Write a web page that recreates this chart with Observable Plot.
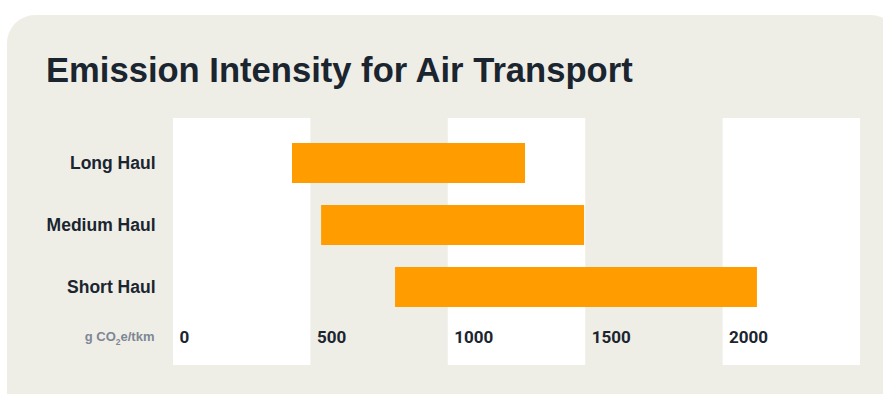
<!DOCTYPE html>
<html>
<head>
<meta charset="utf-8">
<script src="https://cdn.jsdelivr.net/npm/d3@7"></script>
<script src="https://cdn.jsdelivr.net/npm/@observablehq/plot@0.6"></script>
<style>
  html, body { margin: 0; padding: 0; background: #ffffff; width: 883px; height: 394px; overflow: hidden; }
  #card { position: absolute; left: 7px; top: 15px; width: 892px; height: 410px; background: #efeee6; border-radius: 28px; }
  #title { position: absolute; left: 46px; top: 53px; margin: 0; font-family: "Liberation Sans", Arial, sans-serif; font-weight: 700; font-size: 34.6px; line-height: 1; color: #1b2530; white-space: nowrap; }
  #chart { position: absolute; left: 0; top: 118px; }
</style>
</head>
<body>
<div id="card"></div>
<h1 id="title">Emission Intensity for Air Transport</h1>
<div id="chart"></div>
<script>
const categories = ["Long Haul", "Medium Haul", "Short Haul"];
const lowValues = [433, 539, 808];
const highValues = [1281, 1496, 2125];
const tickValues = [0, 500, 1000, 1500, 2000];
const unitParts = ["g CO", "2", "e/tkm"];

const rows = categories.map((c, i) => ({category: c, low: lowValues[i], high: highValues[i]}));
const bands = tickValues.filter((t, i) => i % 2 === 0).map(t => ({x1: t, x2: t + 500}));

const chart = Plot.plot({
  width: 883,
  height: 247,
  marginLeft: 173,
  marginRight: 23,
  marginTop: 0,
  marginBottom: 0,
  style: {background: "transparent", overflow: "visible"},
  x: {domain: [0, 2500], axis: null},
  y: {domain: categories, range: [14, 200], paddingInner: 0.355, paddingOuter: 0.1775, axis: null},
  marks: [
    Plot.rect(bands, {x1: "x1", x2: "x2", fill: "#ffffff"}),
    Plot.barX(rows, {x1: "low", x2: "high", y: "category", fill: "#ff9d00"}),
    Plot.axisY({tickSize: 0, tickPadding: 18, fontSize: 17.5, fontWeight: 700, fontFamily: "Liberation Sans, Arial, sans-serif", fill: "#1b2530", label: null}),
    Plot.text(tickValues, {x: d => d, text: d => String(d), frameAnchor: "bottom", dy: -27.5, dx: 6, textAnchor: "start", lineAnchor: "middle", fontSize: 17, fontWeight: 700, fontFamily: "Roboto, sans-serif", fill: "#1b2530"}),
    Plot.text([unitParts.join("")], {text: d => d, frameAnchor: "bottom-left", dx: -19, dy: -29, textAnchor: "end", lineAnchor: "middle", fontSize: 13, fontWeight: 700, fontFamily: "Liberation Sans, Arial, sans-serif", fill: "#7d8795", className: "unit-label"})
  ]
});
document.getElementById("chart").appendChild(chart);

// render the "2" of CO2 as a real subscript
d3.select(chart).selectAll("g.unit-label text").each(function() {
  const t = d3.select(this);
  t.text(null);
  t.append("tspan").text(unitParts[0]);
  t.append("tspan").attr("font-size", 8.5).attr("dy", 4).text(unitParts[1]);
  t.append("tspan").attr("dy", -4).text(unitParts[2]);
});
</script>
</body>
</html>
